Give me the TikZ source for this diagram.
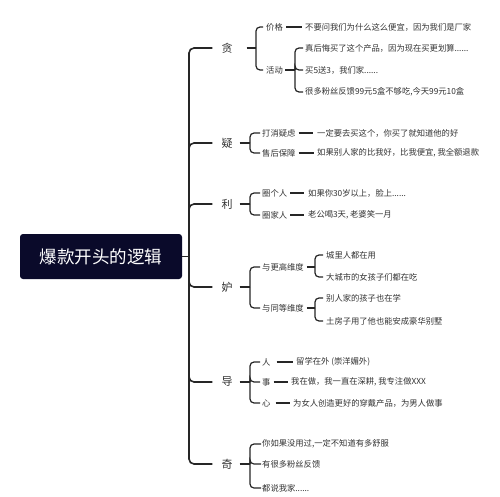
\documentclass[tikz,border=0pt]{standalone}
\usepackage{fontspec}
\setmainfont{Noto Sans CJK SC}
\begin{document}
\begin{tikzpicture}[x=1pt,y=-1pt,
  txt/.style={anchor=west,inner sep=0pt,font=\fontsize{8.3}{9}\selectfont,text=black!80},
  lone/.style={anchor=center,inner sep=0pt,font=\fontsize{11}{12}\selectfont,text=black!80},
  trunk/.style={draw=black!85,line width=1.6pt,rounded corners=5pt},
  link/.style={draw=black!85,line width=1.2pt,rounded corners=4pt}]
\useasboundingbox[fill=white] (0,0) rectangle (500,497);
% root
\node[fill={rgb,255:red,10;green,10;blue,42},rounded corners=3pt,minimum width=162pt,minimum height=45pt,inner sep=0pt,text=white,font=\fontsize{17.5}{18}\selectfont] (root) at (101,256.5) {爆款开头的逻辑};
\coordinate (tr) at (189,256.5);
% level 1
\node[lone] (t1) at (227,48) {贪};
\node[lone] (t2) at (227,143) {疑};
\node[lone] (t3) at (227,204) {利};
\node[lone] (t4) at (227,287) {妒};
\node[lone] (t5) at (227,382) {导};
\node[lone] (t6) at (227,464) {奇};
\draw[trunk,rounded corners=0pt] (root.east) -- (tr);
\foreach \t in {t1,t2,t3,t4,t5,t6}{\draw[trunk] (tr) |- ([xshift=-9pt]\t.west);}
% 贪
\coordinate (ba) at (256,0);
\node[txt] (a1) at (266,27) {价格};
\node[txt] (a2) at (266,70) {活动};
\node[txt] (a1l) at (305,27) {不要问我们为什么这么便宜，因为我们是厂家};
\coordinate (bb) at (295,0);
\node[txt] (a21) at (305,48) {真后悔买了这个产品，因为现在买更划算......};
\node[txt] (a22) at (305,70) {买5送3，我们家......};
\node[txt] (a23) at (305,92) {很多粉丝反馈99元5盒不够吃,今天99元10盒};
\draw[link] ([xshift=14pt]t1.east) -- (t1 -| ba);
\foreach \c in {a1,a2}{\draw[link] (t1 -| ba) |- ([xshift=-3pt]\c.west);}
\draw[link] ([xshift=3pt]a1.east) -- ([xshift=-3pt]a1l.west);
\draw[link] ([xshift=2pt]a2.east) -- (a2 -| bb);
\foreach \c in {a21,a22,a23}{\draw[link] (a2 -| bb) |- ([xshift=-2pt]\c.west);}
% 疑
\coordinate (bc) at (250,0);
\node[txt] (b1) at (262,133) {打消疑虑};
\node[txt] (b2) at (262,153) {售后保障};
\node[txt] (b1l) at (317,133) {一定要去买这个，你买了就知道他的好};
\node[txt] (b2l) at (317,153) {如果别人家的比我好，比我便宜, 我全额退款};
\draw[link] ([xshift=7pt]t2.east) -- (t2 -| bc);
\foreach \c in {b1,b2}{\draw[link] (t2 -| bc) |- ([xshift=-2pt]\c.west);}
\draw[link] ([xshift=3pt]b1.east) -- ([xshift=-4pt]b1l.west);
\draw[link] ([xshift=3pt]b2.east) -- ([xshift=-3pt]b2l.west);
% 利
\node[txt] (c1) at (262,193) {圈个人};
\node[txt] (c2) at (262,215) {圈家人};
\node[txt] (c1l) at (308,193) {如果你30岁以上，脸上......};
\node[txt] (c2l) at (308,215) {老公喝3天, 老婆笑一月};
\draw[link] ([xshift=7pt]t3.east) -- (t3 -| bc);
\foreach \c in {c1,c2}{\draw[link] (t3 -| bc) |- ([xshift=-2pt]\c.west);}
\draw[link] ([xshift=3pt]c1.east) -- ([xshift=-4pt]c1l.west);
\draw[link] ([xshift=3pt]c2.east) -- ([xshift=-4pt]c2l.west);
% 妒
\coordinate (bd) at (315,0);
\node[txt] (d1) at (262,267) {与更高维度};
\node[txt] (d2) at (262,308) {与同等维度};
\node[txt] (d11) at (326,255) {城里人都在用};
\node[txt] (d12) at (326,277) {大城市的女孩子们都在吃};
\node[txt] (d21) at (326,298) {别人家的孩子也在学};
\node[txt] (d22) at (326,321) {土房子用了他也能安成豪华别墅};
\draw[link] ([xshift=7pt]t4.east) -- (t4 -| bc);
\foreach \c in {d1,d2}{\draw[link] (t4 -| bc) |- ([xshift=-2pt]\c.west);}
\draw[link] ([xshift=3pt]d1.east) -- (d1 -| bd);
\foreach \c in {d11,d12}{\draw[link] (d1 -| bd) |- ([xshift=-3pt]\c.west);}
\draw[link] ([xshift=3pt]d2.east) -- (d2 -| bd);
\foreach \c in {d21,d22}{\draw[link] (d2 -| bd) |- ([xshift=-3pt]\c.west);}
% 导
\node[txt] (e1) at (262,362) {人};
\node[txt] (e2) at (262,382) {事};
\node[txt] (e3) at (262,403) {心};
\node[txt] (e1l) at (296,362) {留学在外 (崇洋媚外)};
\node[txt] (e2l) at (291,382) {我在做，我一直在深耕, 我专注做XXX};
\node[txt] (e3l) at (293,403) {为女人创造更好的穿戴产品，为男人做事};
\draw[link] ([xshift=7pt]t5.east) -- (t5 -| bc);
\foreach \c in {e1,e2,e3}{\draw[link] (t5 -| bc) |- ([xshift=-2pt]\c.west);}
\draw[link] ([xshift=6pt]e1.east) -- ([xshift=-3pt]e1l.west);
\draw[link] ([xshift=3pt]e2.east) -- ([xshift=-3pt]e2l.west);
\draw[link] ([xshift=5pt]e3.east) -- ([xshift=-3pt]e3l.west);
% 奇
\node[txt] (f1) at (262,444) {你如果没用过,一定不知道有多舒服};
\node[txt] (f2) at (262,464) {有很多粉丝反馈};
\node[txt] (f3) at (262,488) {都说我家......};
\draw[link] ([xshift=7pt]t6.east) -- (t6 -| bc);
\foreach \c in {f1,f2,f3}{\draw[link] (t6 -| bc) |- ([xshift=-1pt]\c.west);}
\end{tikzpicture}
\end{document}
